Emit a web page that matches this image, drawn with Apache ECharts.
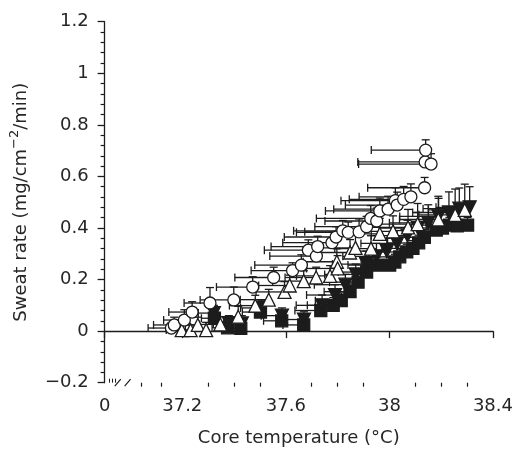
<!DOCTYPE html>
<html>
<head>
<meta charset="utf-8">
<script src="https://cdn.jsdelivr.net/npm/echarts@6/dist/echarts.min.js"></script>
<style>
html,body{margin:0;padding:0;background:#fff;}
#chart{width:516px;height:453px;}
</style>
</head>
<body>
<div id="chart"></div>
<script>
// ---- data (x: core temperature °C, y: sweat rate, xErr: left bar, yErr: up bar) ----
const circleX    = [37.158,37.169,37.208,37.238,37.307,37.399,37.472,37.553,37.626,37.660,37.687,37.718,37.723,37.778,37.794,37.820,37.841,37.883,37.912,37.928,37.951,37.963,37.995,38.023,38.030,38.055,38.083,38.136,38.138,38.161,38.140];
const circleY    = [0.012,0.024,0.043,0.074,0.109,0.121,0.171,0.208,0.235,0.256,0.314,0.291,0.328,0.343,0.365,0.389,0.383,0.385,0.405,0.437,0.427,0.466,0.473,0.506,0.489,0.511,0.521,0.556,0.656,0.648,0.702];
const circleXErr = [0.09,0.08,0.08,0.09,0.10,0.13,0.14,0.15,0.16,0.18,0.17,0.18,0.18,0.19,0.20,0.19,0.20,0.21,0.20,0.21,0.20,0.21,0.21,0.21,0.20,0.21,0.20,0.22,0.26,0.28,0.21];
const circleYErr = [0.02,0.03,0.04,0.04,0.06,0.05,0.04,0.04,0.03,0.04,0.04,0.03,0.04,0.04,0.04,0.04,0.04,0.05,0.04,0.05,0.05,0.05,0.05,0.05,0.05,0.05,0.05,0.04,0.04,0.04,0.04];

const triX    = [37.198,37.232,37.260,37.292,37.347,37.416,37.482,37.534,37.595,37.615,37.669,37.717,37.771,37.797,37.800,37.848,37.869,37.929,37.963,38.014,38.072,38.109,38.189,38.254,38.291];
const triY    = [0.004,0.004,0.024,0.004,0.026,0.056,0.099,0.122,0.152,0.177,0.194,0.208,0.214,0.269,0.243,0.305,0.323,0.320,0.377,0.387,0.402,0.415,0.433,0.451,0.470];
const triXErr = [0.06,0.07,0.07,0.08,0.08,0.09,0.10,0.11,0.11,0.12,0.12,0.12,0.13,0.13,0.12,0.14,0.14,0.14,0.15,0.15,0.15,0.15,0.15,0.14,0.14];
const triYErr = [0.02,0.02,0.03,0.03,0.03,0.04,0.04,0.04,0.04,0.04,0.04,0.04,0.04,0.05,0.05,0.05,0.05,0.05,0.06,0.06,0.07,0.08,0.09,0.10,0.10];

const invX    = [37.322,37.380,37.430,37.505,37.585,37.670,37.740,37.790,37.830,37.870,37.910,37.950,37.990,38.030,38.070,38.110,38.150,38.190,38.230,38.270,38.310];
const invY    = [0.070,0.030,0.030,0.090,0.060,0.045,0.100,0.140,0.180,0.220,0.260,0.290,0.310,0.340,0.370,0.400,0.420,0.445,0.460,0.475,0.480];
const invXErr = [0.06,0.06,0.07,0.08,0.08,0.09,0.10,0.11,0.12,0.12,0.13,0.13,0.14,0.14,0.14,0.15,0.15,0.15,0.14,0.14,0.13];
const invYErr = [0.03,0.03,0.03,0.03,0.03,0.03,0.04,0.04,0.04,0.04,0.05,0.05,0.05,0.05,0.06,0.06,0.07,0.07,0.08,0.08,0.08];

const sqX    = [37.324,37.375,37.426,37.502,37.584,37.669,37.735,37.783,37.814,37.848,37.879,37.912,37.950,38.001,38.021,38.040,38.067,38.091,38.113,38.135,38.181,38.205,38.232,38.262,38.302];
const sqY    = [0.050,0.013,0.011,0.074,0.040,0.024,0.080,0.100,0.118,0.153,0.190,0.229,0.256,0.256,0.268,0.288,0.307,0.321,0.342,0.364,0.392,0.400,0.411,0.408,0.411];
const sqXErr = [0.05,0.06,0.06,0.07,0.07,0.08,0.10,0.10,0.10,0.10,0.11,0.11,0.11,0.11,0.11,0.12,0.12,0.12,0.12,0.12,0.12,0.12,0.12,0.12,0.12];
const sqYErr = [0.03,0.02,0.02,0.03,0.035,0.035,0.03,0.03,0.03,0.03,0.03,0.03,0.03,0.03,0.03,0.03,0.03,0.03,0.03,0.03,0.03,0.03,0.03,0.03,0.03];

// ---- axis ticks / labels ----
const xMajorTicks  = [36.9, 37.2, 37.6, 38.0, 38.4];
const xMajorLabels = ['0', '37.2', '37.6', '38', '38.4'];
const xMinorTicks  = [37.04, 37.12, 37.3, 37.4, 37.5, 37.7, 37.8, 37.9, 38.1, 38.2, 38.3];
const xBreakTicks  = [36.918, 36.929, 36.941];
const xTitle = 'Core temperature (°C)';
const yTitle = 'Sweat rate (mg/cm{sup|−2}/min)';

const INK = '#1c1c1c';
const TXT = '#262626';
const FONT = 'DejaVu Sans, sans-serif';

function rows(xs, ys, xe, ye){ return xs.map((x,i)=>[x, ys[i], xe[i], ye[i]]); }

function errRender(params, api){
  const x = api.value(0), y = api.value(1), xe = api.value(2), ye = api.value(3);
  const p  = api.coord([x, y]);
  const pl = api.coord([x - xe, y]);
  const pu = api.coord([x, y + ye]);
  const c = 4;
  const st = {stroke: INK, lineWidth: 1.3};
  return {type:'group', children:[
    {type:'line', shape:{x1:p[0], y1:p[1], x2:pl[0], y2:pl[1]}, style:st},
    {type:'line', shape:{x1:pl[0], y1:pl[1]-c, x2:pl[0], y2:pl[1]+c}, style:st},
    {type:'line', shape:{x1:p[0], y1:p[1], x2:pu[0], y2:pu[1]}, style:st},
    {type:'line', shape:{x1:pu[0]-c, y1:pu[1], x2:pu[0]+c, y2:pu[1]}, style:st}
  ]};
}

function errSeries(data){
  return {type:'custom', renderItem: errRender, data: data, encode:{x:0, y:1}, silent:true, clip:false};
}
function ptSeries(data, symbol, fill, size, rotate){
  return {type:'scatter', data: data.map(d=>[d[0], d[1]]), symbol: symbol, symbolSize: size,
    symbolRotate: rotate || 0,
    itemStyle:{color: fill, borderColor: INK, borderWidth: 1.3, opacity: 1}, silent:true};
}

const sqData = rows(sqX, sqY, sqXErr, sqYErr);
const invData = rows(invX, invY, invXErr, invYErr);
const triData = rows(triX, triY, triXErr, triYErr);
const cirData = rows(circleX, circleY, circleXErr, circleYErr);

const chart = echarts.init(document.getElementById('chart'), null, {renderer:'canvas'});
const option = {
  animation: false,
  backgroundColor: '#fff',
  grid: {left: 103.5, right: 22, top: 21.7, bottom: 70.3, containLabel: false},
  xAxis: [
    {type:'value', min:36.9, max:38.4, position:'bottom',
     axisLine:{show:true, lineStyle:{color:INK, width:1.3}},
     axisTick:{show:true, customValues: xMajorTicks, length:7, lineStyle:{color:INK, width:1.3}},
     axisLabel:{show:true, customValues: xMajorTicks, margin:15, color:TXT, fontSize:18, fontFamily:FONT,
       formatter: v => { const i = xMajorTicks.findIndex(t => Math.abs(t - v) < 1e-6); return i >= 0 ? xMajorLabels[i] : ''; }},
     splitLine:{show:false},
     name: xTitle, nameLocation:'middle', nameGap:47,
     nameTextStyle:{color:TXT, fontSize:18, fontFamily:FONT}},
    {type:'value', min:36.9, max:38.4, position:'bottom',
     axisLine:{show:false},
     axisTick:{show:true, customValues: xMinorTicks, length:4, lineStyle:{color:INK, width:1.2}},
     axisLabel:{show:false}, splitLine:{show:false}},
    {type:'value', min:36.9, max:38.4, position:'bottom',
     axisLine:{show:false},
     axisTick:{show:true, inside:true, customValues: xBreakTicks, length:4, lineStyle:{color:INK, width:1}},
     axisLabel:{show:false}, splitLine:{show:false}}
  ],
  yAxis: {type:'value', min:-0.2, max:1.2, interval:0.2,
    axisLine:{show:true, lineStyle:{color:INK, width:1.3}},
    axisTick:{show:true, length:7, lineStyle:{color:INK, width:1.3}},
    minorTick:{show:true, splitNumber:5, length:4, lineStyle:{color:INK, width:1.2}},
    minorSplitLine:{show:false},
    splitLine:{show:false},
    axisLabel:{margin:16, color:TXT, fontSize:18, fontFamily:FONT,
      formatter: v => { const r = Math.round(v*10)/10; return r === 0 ? '0' : String(r).replace('-', '−'); }},
    name: yTitle, nameLocation:'middle', nameGap:68,
    nameTextStyle:{color:TXT, fontSize:18, fontFamily:FONT, lineHeight:26,
      rich:{sup:{fontSize:13, fontFamily:FONT, color:TXT, verticalAlign:'top', lineHeight:13}}}
  },
  series: [
    errSeries(sqData),  ptSeries(sqData, 'rect', INK, 12),
    errSeries(invData), ptSeries(invData, 'triangle', INK, 13, 180),
    errSeries(triData), ptSeries(triData, 'triangle', '#fff', 13),
    errSeries(cirData), ptSeries(cirData, 'circle', '#fff', 12)
  ]
};
chart.setOption(option);

// axis break mark "//"
const xa = chart.convertToPixel({xAxisIndex:0}, 36.947);
const xb = chart.convertToPixel({xAxisIndex:0}, 36.985);
const yb = chart.convertToPixel({yAxisIndex:0}, -0.2);
chart.setOption({graphic:[
  {type:'rect', shape:{x:xa+2, y:yb-2.5, width:xb-xa-2, height:5}, style:{fill:'#fff'}, z:100},
  {type:'line', shape:{x1:xa-2, y1:yb+3.5, x2:xa+4, y2:yb-3.5}, style:{stroke:INK, lineWidth:1.2}, z:101},
  {type:'line', shape:{x1:xb-2, y1:yb+3.5, x2:xb+4, y2:yb-3.5}, style:{stroke:INK, lineWidth:1.2}, z:101}
]});
</script>
</body>
</html>
